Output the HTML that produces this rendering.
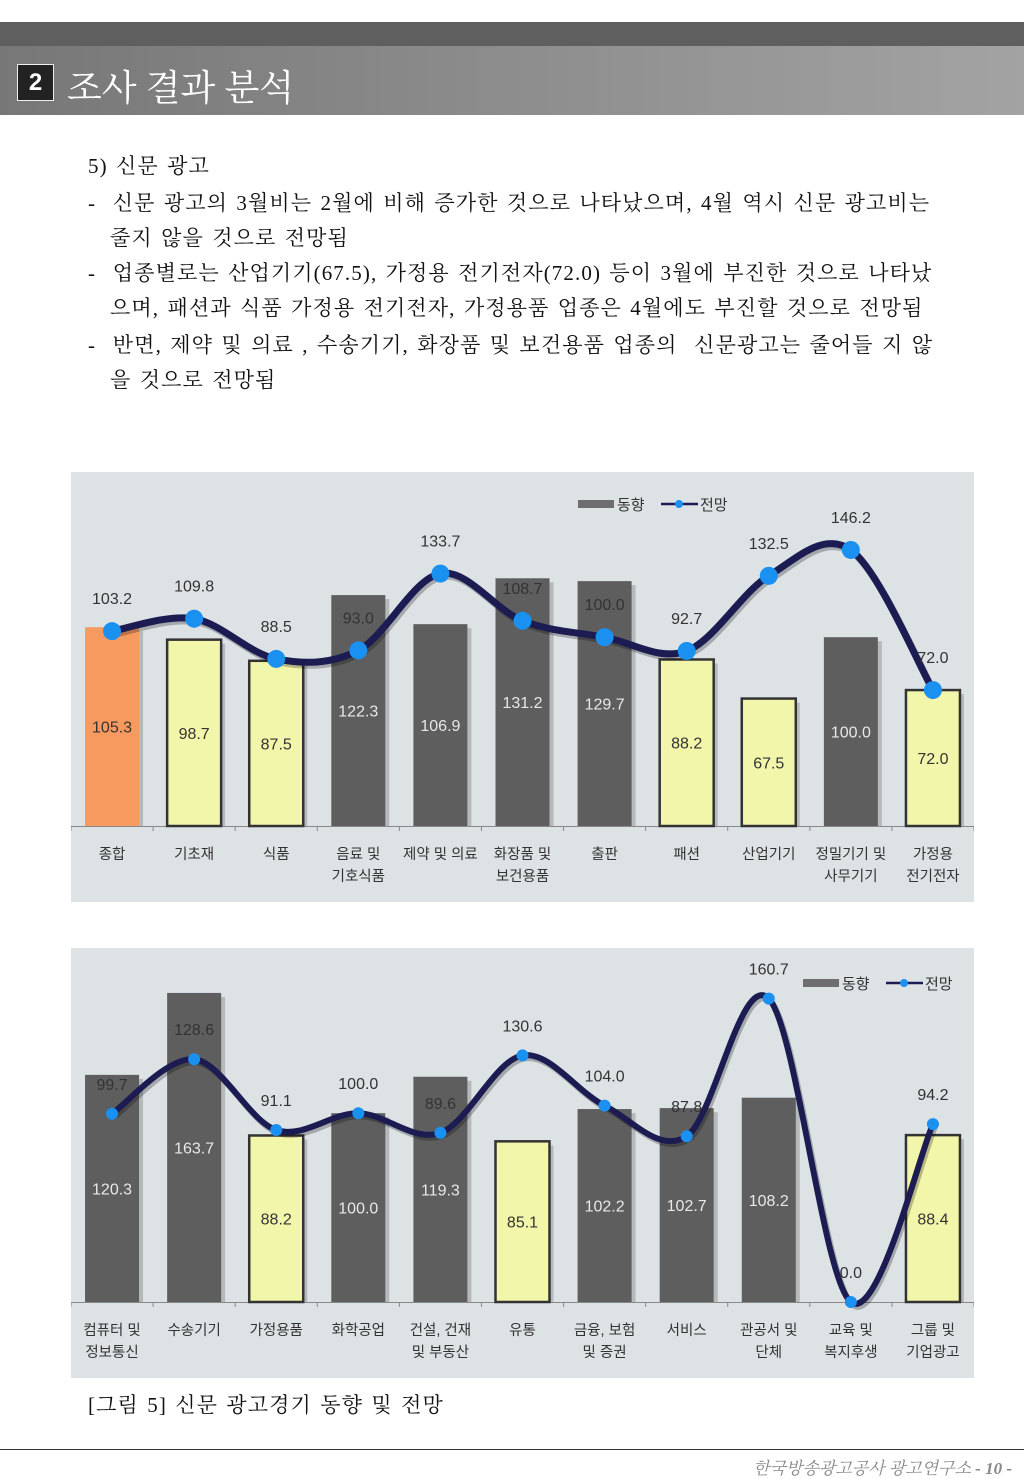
<!DOCTYPE html>
<html><head><meta charset="utf-8">
<style>
body{margin:0;width:1024px;height:1479px;background:#fff;position:relative;overflow:hidden;font-family:"Liberation Serif","Noto Serif CJK SC",serif;}
.abs{position:absolute;}
.tl{position:absolute;font-size:21px;color:#111;white-space:nowrap;letter-spacing:1.1px;word-spacing:2px;}
svg text{font-family:"Liberation Sans","Noto Sans CJK KR",sans-serif;}
</style></head><body>
<div class="abs" style="left:0;top:22px;width:1024px;height:24px;background:#5f5f5f"></div>
<div class="abs" style="left:0;top:46px;width:1024px;height:69px;background:linear-gradient(90deg,#777,#a3a3a3)"></div>
<div class="abs" style="left:17px;top:64px;width:35px;height:35px;background:#222;border:1px solid #eee;color:#fff;font:bold 24px 'Liberation Sans',sans-serif;text-align:center;line-height:35px">2</div>
<div class="abs" style="left:67px;top:60px;color:#fff;font-size:36px;font-family:'Noto Serif CJK SC',serif;letter-spacing:0px">조사 결과 분석</div>

<div class="tl" style="left:88px;top:150px">5) 신문 광고</div>
<div class="tl" style="left:88px;top:187px">-&nbsp;&nbsp;신문 광고의 3월비는 2월에 비해 증가한 것으로 나타났으며, 4월 역시 신문 광고비는</div>
<div class="tl" style="left:110px;top:222px">줄지 않을 것으로 전망됨</div>
<div class="tl" style="left:88px;top:257px">-&nbsp;&nbsp;업종별로는 산업기기(67.5), 가정용 전기전자(72.0) 등이 3월에 부진한 것으로 나타났</div>
<div class="tl" style="left:110px;top:292px">으며, 패션과 식품 가정용 전기전자, 가정용품 업종은 4월에도 부진할 것으로 전망됨</div>
<div class="tl" style="left:88px;top:329px">-&nbsp;&nbsp;반면, 제약 및 의료 , 수송기기, 화장품 및 보건용품 업종의&nbsp; 신문광고는 줄어들 지 않</div>
<div class="tl" style="left:110px;top:364px">을 것으로 전망됨</div>

<svg id="c1" class="abs" style="left:71px;top:472px" width="903" height="430"></svg>
<svg id="c2" class="abs" style="left:71px;top:948px" width="903" height="430"></svg>

<div class="tl" style="left:88px;top:1389px">[그림 5] 신문 광고경기 동향 및 전망</div>
<div class="abs" style="left:0;top:1449px;width:1024px;height:1px;background:#333"></div>
<div class="abs" style="right:12px;top:1454px;color:#888;font-style:italic;font-size:17px">한국방송광고공사 광고연구소 <b>- 10 -</b></div>

<script>
const cats1=[["종합"],["기초재"],["식품"],["음료 및","기호식품"],["제약 및 의료"],["화장품 및","보건용품"],["출판"],["패션"],["산업기기"],["정밀기기 및","사무기기"],["가정용","전기전자"]];
const trend1=[105.3,98.7,87.5,122.3,106.9,131.2,129.7,88.2,67.5,100.0,72.0];
const outlook1=[103.2,109.8,88.5,93.0,133.7,108.7,100.0,92.7,132.5,146.2,72.0];
const colors1=["o","y","y","g","g","g","g","y","y","g","y"];
const cats2=[["컴퓨터 및","정보통신"],["수송기기"],["가정용품"],["화학공업"],["건설, 건재","및 부동산"],["유통"],["금융, 보험","및 증권"],["서비스"],["관공서 및","단체"],["교육 및","복지후생"],["그룹 및","기업광고"]];
const trend2=[120.3,163.7,88.2,100.0,119.3,85.1,102.2,102.7,108.2,0,88.4];
const outlook2=[99.7,128.6,91.1,100.0,89.6,130.6,104.0,87.8,160.7,0.0,94.2];
const colors2=["g","g","y","g","g","y","g","g","g","g","y"];

const NS="http://www.w3.org/2000/svg";
function mk(svg,tag,attrs,txt){const e=document.createElementNS(NS,tag);for(const k in attrs)e.setAttribute(k,attrs[k]);if(txt!=null)e.textContent=txt;svg.appendChild(e);return e;}
function draw(id,cats,trend,outlook,colors,opt){
  const svg=document.getElementById(id);
  const W=903,base=354,scale=1.888,step=W/cats.length,bw=54;
  const x=i=>step*i+step/2, y=v=>base-v*scale;
  mk(svg,"rect",{x:0,y:0,width:W,height:430,fill:"#dde2e5"});
  mk(svg,"line",{x1:0,y1:base+0.5,x2:W,y2:base+0.5,stroke:"#888","stroke-width":1});
  for(let i=0;i<=cats.length;i++){const t=mk(svg,"line",{x1:step*i,y1:base,x2:step*i,y2:base+5,stroke:"#888"});}
  const fills={o:"#f79a60",y:"#f2f6aa",g:"#5e5e5e"};
  trend.forEach((v,i)=>{
    const h=v*scale; if(h<=0) return;
    const c=colors[i];
    mk(svg,"rect",{x:x(i)-bw/2+4,y:y(v)+4,width:bw,height:h-4,fill:"#000",opacity:0.18});
    const r=mk(svg,"rect",{x:x(i)-bw/2,y:y(v),width:bw,height:h,fill:fills[c],stroke:c=="y"?"#333":"none","stroke-width":c=="y"?2.5:0});
    
    
    const t=mk(svg,"text",{x:x(i),y:y(v/2)+6,"text-anchor":"middle","font-size":16,fill:c=="g"?"#e8e8e8":"#333"},v.toFixed(1));
    
    
  });
  const P=outlook.map((v,i)=>[x(i),y(v)]);
  let d="M"+P[0][0]+","+P[0][1];
  for(let i=0;i<P.length-1;i++){
    const p0=P[i-1]||P[i],p1=P[i],p2=P[i+1],p3=P[i+2]||P[i+1];
    const c1=[p1[0]+(p2[0]-p0[0])/6,p1[1]+(p2[1]-p0[1])/6],c2=[p2[0]-(p3[0]-p1[0])/6,p2[1]-(p3[1]-p1[1])/6];
    d+=` C${c1} ${c2} ${p2}`;
  }
  mk(svg,"path",{d:d,fill:"none",stroke:"#000",opacity:0.25,"stroke-width":opt.lw,transform:"translate(2,3)"});
  const ln=mk(svg,"path",{d:d,fill:"none",stroke:"#1c1c52","stroke-width":opt.lw,"stroke-linecap":"round"});
  
  
  outlook.forEach((v,i)=>{
    const m=mk(svg,"circle",{cx:x(i),cy:y(v),r:opt.mr,fill:"#1a90f0"});
    
    
    const t=mk(svg,"text",{x:x(i),y:y(v)-opt.lo,"text-anchor":"middle","font-size":16,fill:"#333"},v.toFixed(1));
    
    
  });
  cats.forEach((c,i)=>c.forEach((s,j)=>{
    const t=mk(svg,"text",{x:x(i),y:base+33+j*22,"text-anchor":"middle","font-size":14.5,fill:"#333"},s);
    
    
  }));
  const L=opt.legend;
  const g=mk(svg,"g",{});
  
  
  mk(g,"rect",{x:L[0],y:L[1]-4,width:36,height:8,fill:"#6e6e6e"});
  mk(g,"text",{x:L[0]+39,y:L[1]+6,"font-size":15,fill:"#333"},"동향");
  mk(g,"line",{x1:L[0]+83,y1:L[1],x2:L[0]+120,y2:L[1],stroke:"#1c1c52","stroke-width":2.5});
  mk(g,"circle",{cx:L[0]+101,cy:L[1],r:4,fill:"#1a90f0"});
  mk(g,"text",{x:L[0]+122,y:L[1]+6,"font-size":15,fill:"#333"},"전망");
}
draw("c1",cats1,trend1,outlook1,colors1,{lw:7,mr:9,lo:27,legend:[507,32]});
draw("c2",cats2,trend2,outlook2,colors2,{lw:6,mr:6,lo:24,legend:[732,35]});
</script>
</body></html>
